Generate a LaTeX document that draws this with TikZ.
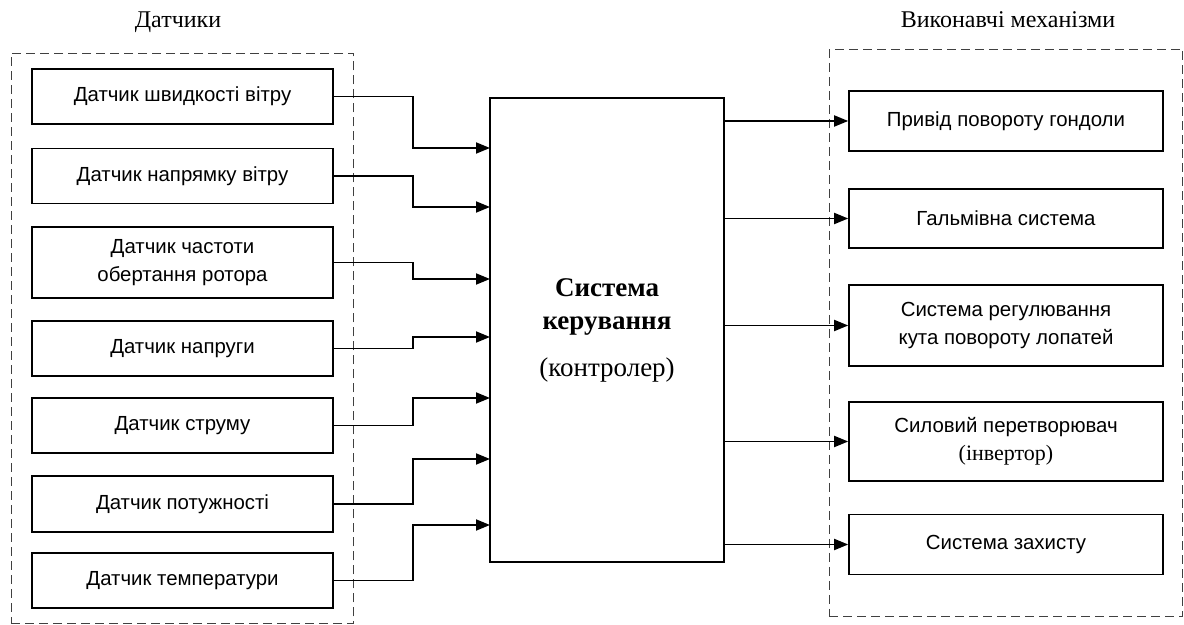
\documentclass[tikz,border=0pt]{standalone}
\usepackage{fontspec}
\setmainfont{Liberation Sans}
\newfontfamily\rmtimes{Liberation Serif}
\usetikzlibrary{arrows.meta,fit}

\begin{document}
\begin{tikzpicture}[x=0.5pt,y=-0.5pt,>={Triangle[length=7pt,width=5.5pt]},
  sensor/.style={draw,line width=0.8pt,minimum width=150.5pt,minimum height=27.5pt,align=center,font=\fontsize{10.2}{14}\selectfont},
  act/.style={draw,line width=0.8pt,minimum width=157pt,minimum height=30pt,align=center,font=\fontsize{10.2}{14}\selectfont},
  group/.style={draw=black!75,dash pattern=on 4.5pt off 2.5pt,line width=0.6pt},
  title/.style={font=\rmtimes\fontsize{12}{14}\selectfont},
  wire/.style={line width=0.9pt}]
\useasboundingbox (0,0) rectangle (1184,625);
% датчики
\node[sensor] (s1) at (182.5,96.5) {Датчик швидкості вітру};
\node[sensor] (s2) at (182.5,176) {Датчик напрямку вітру};
\node[sensor,minimum height=35.5pt] (s3) at (182.5,262.5) {Датчик частоти\\обертання ротора};
\node[sensor] (s4) at (182.5,348.5) {Датчик напруги};
\node[sensor] (s5) at (182.5,425.5) {Датчик струму};
\node[sensor,minimum height=28pt] (s6) at (182.5,504) {Датчик потужності};
\node[sensor] (s7) at (182.5,580.5) {Датчик температури};
\node[group,fit=(s1)(s7),inner xsep=10pt,inner ysep=7.5pt] (gS) {};
\node[title] (tS) at (178,22) {Датчики};
% контролер
\node[draw,line width=0.9pt,minimum width=117pt,minimum height=232pt,align=center,font=\rmtimes\fontsize{13.5}{16.5}\selectfont] (ctrl) at (607,330) {\textbf{Система}\\\textbf{керування}\\[7pt](контролер)};
% виконавчі механізми
\node[act] (a1) at (1006,121) {Привід повороту гондоли};
\node[act,minimum height=29.5pt] (a2) at (1006,218.5) {Гальмівна система};
\node[act,minimum height=40.5pt] (a3) at (1006,325.5) {Система регулювання\\кута повороту лопатей};
\node[act,minimum height=39.5pt] (a4) at (1006,441.5) {Силовий перетворювач\\{\rmtimes\fontsize{11}{14}\selectfont(інвертор)}};
\node[act] (a5) at (1006,544.5) {Система захисту};
\node[group,fit=(a1)(a5),inner xsep=9.5pt,inner ysep=20.5pt] (gA) {};
\node[title] (tA) at (1008,20) {Виконавчі механізми};
% зв'язки
\coordinate (jx) at (413,0);
\foreach \i/\y in {1/148,2/207,3/279,4/337,5/398,6/459,7/525}{
  \coordinate (in\i) at (490,\y);
  \draw[wire,->] (s\i.east) -- (s\i.east -| jx) |- (in\i);
}
\foreach \i in {1,...,5}
  \draw[wire,->] (ctrl.east |- a\i.west) -- (a\i.west);
\end{tikzpicture}
\end{document}
